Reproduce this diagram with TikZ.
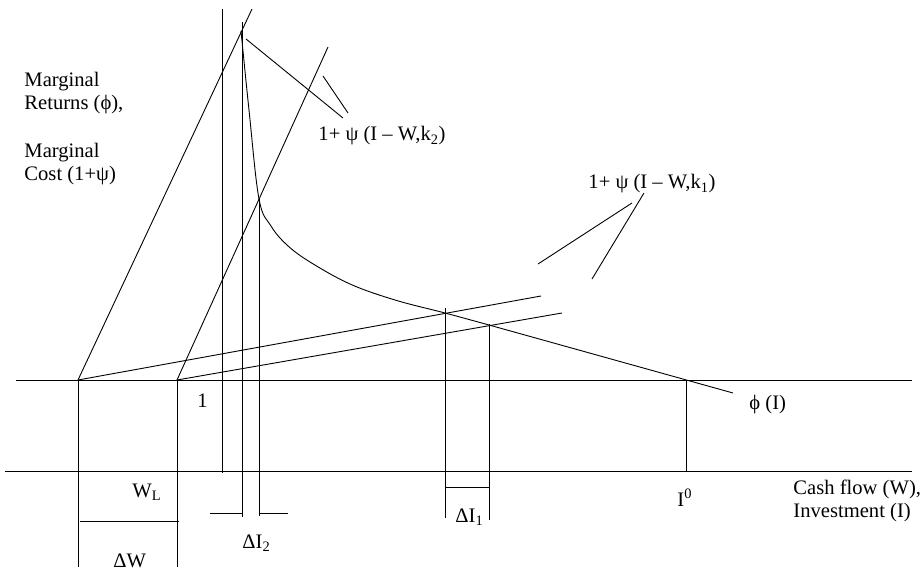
\documentclass[tikz,border=0pt]{standalone}
\usepackage{fontspec}
\setmainfont{Liberation Serif}
\begin{document}
\begin{tikzpicture}[x=1pt,y=-1pt,line width=.9pt,
  lbl/.style={inner sep=0pt,font=\fontsize{20.6}{23}\selectfont}]
 \useasboundingbox (0,0) rectangle (923,572);
 % axes
 \draw (16,380)--(912,380);
 \draw (5,471)--(912,471);
 % verticals
 \foreach \x/\ya/\yb in {78/380/567,177/380/567,222/9/473,242/22/517,259/199/516,445/308/518,489/324/520,686/380/471}
   \draw (\x,\ya)--(\x,\yb);
 % brackets
 \draw (80,521)--(179,521);
 \draw (210,513)--(242,513) (259,513)--(288,513);
 \draw (445,487)--(490,487);
 % marginal cost lines
 \draw (78,380)--(252,9);
 \draw (177,380)--(328,47);
 \draw (78,380)--(541,296);
 \draw (177,380)--(562,313);
 % marginal returns
 \draw plot[smooth,tension=.6] coordinates {(241,31) (249,110) (259,199) (271,226) (287,245) (310,262) (350,284) (395,300) (445,313) (489,325)} -- (733,393);
 % leaders
 \draw (246,39)--(343,118) (323,76)--(348,113);
 \draw (632,203)--(538,264) (644,193)--(592,279);
 % labels
 \node[lbl,anchor=north west,align=left] (ylab) at (24,71.5) {Marginal\\Returns (ϕ),\\[25pt]Marginal\\Cost (1+ψ)};
 \node[lbl,anchor=base west] (klab2) at (318,141) {1+ ψ (I – W,k\textsubscript{2})};
 \node[lbl,anchor=base west] (klab1) at (588,189) {1+ ψ (I – W,k\textsubscript{1})};
 \node[lbl,anchor=base west] (philab) at (749,409) {ϕ (I)};
 \node[lbl,anchor=base west] (one) at (197,407) {1};
 \node[lbl,anchor=north west,align=left] (xlab) at (793,480) {Cash flow (W),\\Investment (I)};
 \node[lbl,anchor=base west] (izero) at (677,506) {I\textsuperscript{0}};
 \node[lbl,anchor=base west] (wl) at (132,497) {W\textsubscript{L}};
 \node[lbl,anchor=base west] (dw) at (113,567) {ΔW};
 \node[lbl,anchor=base west] (di2) at (242,548) {ΔI\textsubscript{2}};
 \node[lbl,anchor=base west] (di1) at (455,522) {ΔI\textsubscript{1}};
\end{tikzpicture}
\end{document}
